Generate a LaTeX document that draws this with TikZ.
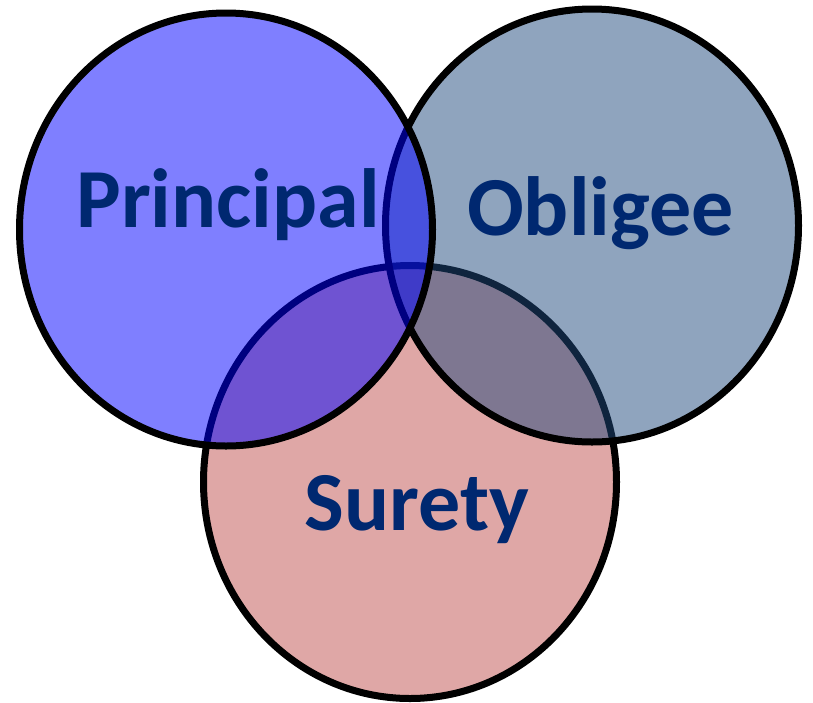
\documentclass[tikz,border=0pt]{standalone}
\usepackage{fontspec}
\setmainfont{Carlito}
\usetikzlibrary{positioning, shapes.geometric}
\definecolor{principalblue}{RGB}{0,0,255}
\definecolor{obligeeblue}{RGB}{31,73,125}
\definecolor{suretyred}{RGB}{192,80,77}
\definecolor{labelnavy}{RGB}{0,40,112}

\begin{document}
\begin{tikzpicture}
			[x=1pt, y=-1pt,
			party/.style={ellipse, draw=black, line width=7pt, fill opacity=0.5, inner sep=0pt, minimum width=413pt, minimum height=433pt},
			partyname/.style={anchor=base, inner sep=0pt, text=labelnavy, font=\fontsize{84}{100}\selectfont\bfseries}]
			\useasboundingbox (0,0) rectangle (813,702);
			\node[party, fill=suretyred] (surety) at (410,482) {};
			\node[party, fill=obligeeblue] (obligee) at (592,225.5) {};
			\node[party, fill=principalblue] (principal) at (226,229.5) {};
			\node[partyname] (principallabel) at (228,227) {Principal};
			\node[partyname] (obligeelabel) at (600.5,235) {Obligee};
			\node[partyname] (suretylabel) at (417,530) {Surety};
		\end{tikzpicture}
\end{document}
